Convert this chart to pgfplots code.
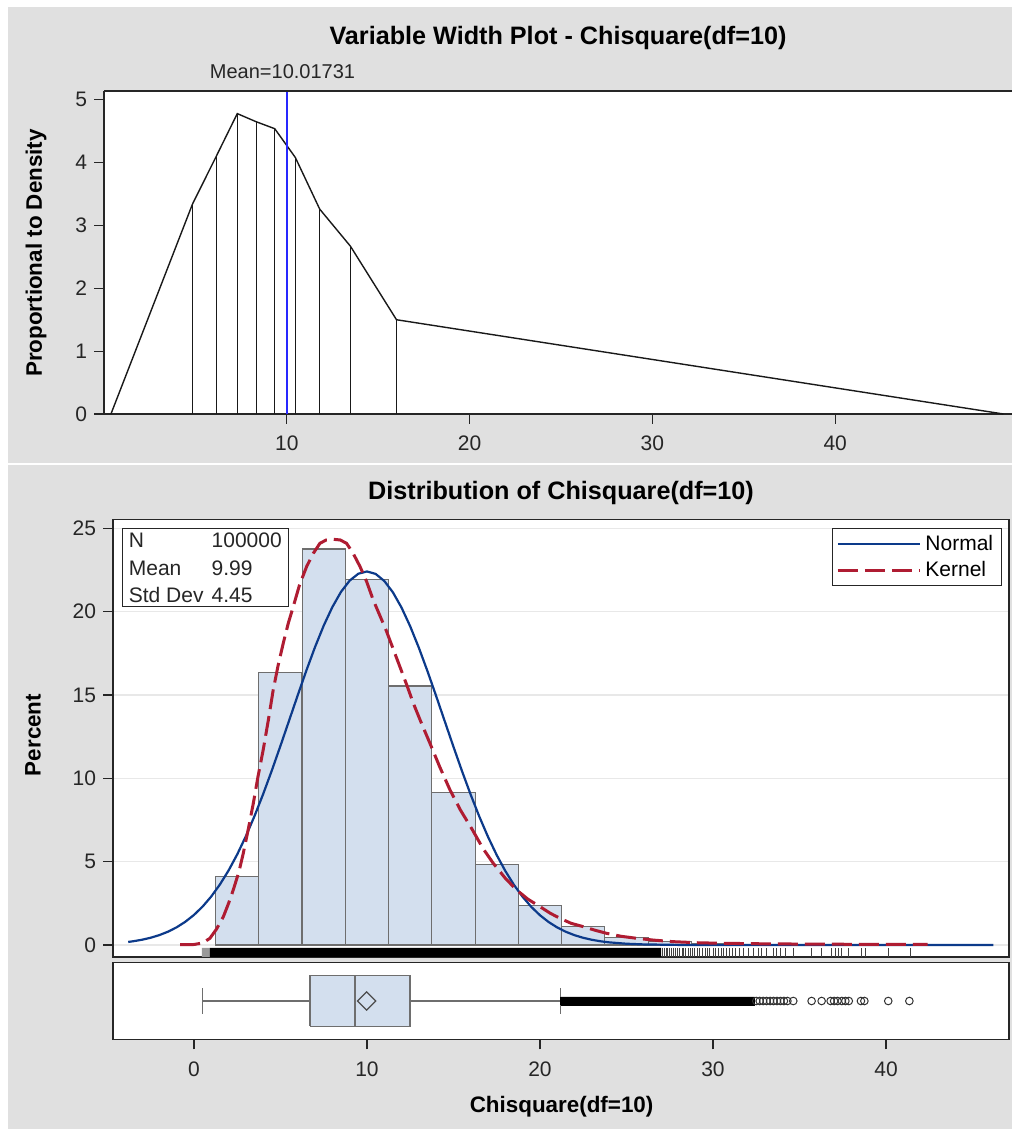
\documentclass[border=0pt]{standalone}
\usepackage{pgfplots}
\pgfplotsset{compat=1.18}
\usepackage{fontspec}
\setmainfont{Liberation Sans}
\definecolor{bggray}{RGB}{224,224,224}
\definecolor{barfill}{RGB}{211,223,238}
\definecolor{baredge}{RGB}{110,110,110}
\definecolor{normblue}{RGB}{12,58,138}
\definecolor{kernred}{RGB}{175,28,50}
\definecolor{meanblue}{RGB}{40,40,255}
\definecolor{gridgray}{RGB}{232,232,232}
\pgfplotsset{
  sasaxis/.style={
    scale only axis,
    anchor=south west,
    axis line style={draw=black!85, line width=0.6pt},
    tick style={draw=black!85, line width=0.6pt},
    tick align=outside,
    major tick length=5pt,
    xtick pos=bottom, ytick pos=left,
    ticklabel style={font=\fontsize{10.5}{12}\selectfont, text=black!85},
    /pgf/number format/assume math mode=true,
    axis background/.style={fill=white},
    clip=false,
  }
}
\begin{document}
\begin{tikzpicture}
\fill[white] (0pt,0pt) rectangle (506pt,564.5pt);
\useasboundingbox (0pt,0pt) rectangle (506pt,564.5pt);
\fill[bggray] (4pt,333pt) rectangle (506pt,561pt);
\fill[bggray] (4pt,0pt) rectangle (506pt,332pt);

% ---------- top: variable width plot ----------
\begin{axis}[sasaxis, at={(52pt,357.5pt)}, width=454pt, height=161.5pt,
  xmin=0, xmax=49.67, ymin=0, ymax=5.14,
  axis x line*=bottom, axis y line*=left,
  xtick={10,20,30,40}, ytick={0,1,2,3,4,5},
  xticklabel style={yshift=-2.5pt}]
\addplot[black!90, line width=0.7pt] coordinates {
(0.38,0)(4.84,3.34)(6.14,4.10)(7.29,4.78)(8.33,4.65)(9.34,4.54)(10.47,4.08)(11.8,3.26)(13.48,2.67)(16.0,1.50)(49.2,0)};
\addplot[ycomb, black!90, line width=0.7pt] coordinates {
(4.84,3.34)(6.14,4.10)(7.29,4.78)(8.33,4.65)(9.34,4.54)(10.47,4.08)(11.8,3.26)(13.48,2.67)(16.0,1.50)};
\addplot[meanblue, line width=0.7pt] coordinates {(10.017,0)(10.017,5.14)};
\draw[black!85, line width=0.6pt] (rel axis cs:0,1) -- (rel axis cs:1,1);
\end{axis}

% ---------- histogram ----------
\begin{axis}[sasaxis, at={(56.5pt,86pt)}, width=448pt, height=218.85pt,
  xmin=-4.68, xmax=47.11, ymin=-0.72, ymax=25.54,
  xtick=\empty, ytick={0,5,10,15,20,25},
  ymajorgrids, grid style={gridgray, line width=0.6pt},
  legend style={at={(1,1)}, anchor=north east, xshift=-3.65pt, yshift=-4.5pt,
    draw=black!85, line width=0.6pt, font=\fontsize{10.5}{12}\selectfont,
    inner xsep=2pt, inner ysep=1pt, row sep=0pt},
  legend cell align=left,
  legend image code/.code={\draw[#1] (0pt,0pt) -- (41pt,0pt);}]
\addplot[ybar interval, fill=barfill, draw=baredge, line width=0.6pt, forget plot] coordinates {
(1.25,4.10)(3.75,16.36)(6.25,23.76)(8.75,21.92)(11.25,15.54)(13.75,9.16)(16.25,4.84)(18.75,2.36)(21.25,1.12)(23.75,0.46)(26.25,0.20)(28.75,0.08)(31.25,0.03)(33.75,0)};
% rug
\addplot[fill=black!40, draw=none, forget plot] coordinates {(0.45,-0.72)(0.92,-0.72)(0.92,-0.18)(0.45,-0.18)(0.45,-0.72)};
\addplot[fill=black, draw=none, forget plot] coordinates {(0.92,-0.72)(27.0,-0.72)(27.0,-0.18)(0.92,-0.18)(0.92,-0.72)};
\addplot[only marks, mark=|, mark size=2.25pt, mark options={black!75, line width=0.35pt}, forget plot] coordinates {
(27.1,-0.45)(27.2,-0.45)(27.3,-0.45)(27.35,-0.45)(27.5,-0.45)(27.6,-0.45)(27.7,-0.45)(27.8,-0.45)(27.95,-0.45)(28.05,-0.45)(28.2,-0.45)(28.3,-0.45)(28.4,-0.45)(28.55,-0.45)(28.7,-0.45)(28.8,-0.45)(28.95,-0.45)(29.1,-0.45)(29.2,-0.45)(29.4,-0.45)(29.55,-0.45)(29.7,-0.45)(29.8,-0.45)(30.0,-0.45)(30.15,-0.45)(30.3,-0.45)(30.5,-0.45)(30.6,-0.45)(30.8,-0.45)(30.95,-0.45)(31.1,-0.45)(31.3,-0.45)(31.5,-0.45)
(31.75,-0.45)(32.04,-0.45)(32.33,-0.45)(32.62,-0.45)(32.81,-0.45)(33.10,-0.45)(33.49,-0.45)(33.68,-0.45)(33.87,-0.45)(34.16,-0.45)(34.64,-0.45)(35.70,-0.45)(36.28,-0.45)(36.86,-0.45)(37.05,-0.45)(37.25,-0.45)(37.44,-0.45)(37.82,-0.45)(38.59,-0.45)(38.79,-0.45)(40.13,-0.45)(41.39,-0.45)};
% normal
\addplot[normblue, line width=1.1pt] coordinates {
(-3.8,0.184)(-3.5,0.226)(-3,0.316)(-2.5,0.436)(-2,0.594)(-1.5,0.799)(-1,1.062)(-0.5,1.393)(0,1.803)(0.5,2.306)(1,2.912)(1.5,3.631)(2,4.470)(2.5,5.435)(3,6.526)(3.5,7.737)(4,9.057)(4.5,10.470)(5,11.952)(5.5,13.470)(6,14.992)(6.5,16.477)(7,17.882)(7.5,19.163)(8,20.277)(8.5,21.188)(9,21.862)(9.5,22.275)(10,22.41)(10.5,22.263)(11,21.840)(11.5,21.156)(12,20.237)(12.5,19.114)(13,17.828)(13.5,16.420)(14,14.932)(14.5,13.409)(15,11.891)(15.5,10.412)(16,9.003)(16.5,7.686)(17,6.480)(17.5,5.394)(18,4.435)(18.5,3.600)(19,2.886)(19.5,2.284)(20,1.785)(20.5,1.378)(21,1.050)(21.5,0.790)(22,0.587)(22.5,0.431)(23,0.312)(23.5,0.223)(24,0.158)(25,0.076)(26,0.035)(28,0.005)(30,0.0005)(35,0)(40,0)(46.2,0)};
\addlegendentry{Normal}
% kernel
\addplot[kernred, line width=1.5pt, dash pattern=on 10pt off 3.5pt] coordinates {
(-0.8,0.02)(0.0,0.03)(0.5,0.12)(0.92,0.4)(1.3,0.95)(1.7,1.7)(2.0,2.5)(2.27,3.3)(2.6,4.4)(2.85,5.5)(3.15,7.0)(3.43,8.5)(3.7,10.1)(4.0,11.7)(4.3,13.5)(4.58,15.3)(4.87,16.8)(5.16,18.1)(5.45,19.3)(5.74,20.3)(6.1,21.6)(6.51,22.7)(6.9,23.5)(7.28,24.1)(7.65,24.3)(8.05,24.34)(8.45,24.3)(8.82,24.1)(9.2,23.5)(9.6,22.7)(9.98,21.8)(10.36,20.7)(10.73,19.8)(11.1,18.9)(11.5,17.8)(11.9,16.7)(12.3,15.6)(12.68,14.5)(13.15,13.3)(13.64,12.1)(14.2,10.7)(14.8,9.3)(15.4,8.1)(16.1,6.9)(16.7,5.8)(17.3,4.9)(18.0,4.0)(18.65,3.3)(19.3,2.75)(20.0,2.3)(20.6,1.9)(21.16,1.6)(21.8,1.3)(22.5,1.1)(23.2,0.88)(23.85,0.7)(24.7,0.52)(25.6,0.4)(26.6,0.29)(27.7,0.2)(29.2,0.13)(30.8,0.1)(33,0.07)(36,0.05)(39,0.04)(42.4,0.03)};
\addlegendentry{Kernel}
\node[draw=black!85, line width=0.6pt, fill=white, anchor=north west, inner xsep=3.3pt, inner ysep=2pt,
  font=\fontsize{10.5}{13.75}\selectfont, align=left, text=black!85] at (axis cs:-4.18,25.0)
  {\makebox[41.4pt][l]{N}100000\\ \makebox[41.4pt][l]{Mean}9.99\\ \makebox[41.4pt][l]{Std Dev}4.45};
\end{axis}

% ---------- box plot ----------
\begin{axis}[sasaxis, at={(56.5pt,44.85pt)}, width=448pt, height=38.3pt,
  xmin=-4.68, xmax=47.11, ymin=-1, ymax=1,
  ytick=\empty, xtick={0,10,20,30,40},
  xticklabel style={yshift=-2.5pt}]
\addplot[baredge, line width=0.6pt] coordinates {(0.48,0)(6.71,0)};
\addplot[baredge, line width=0.6pt] coordinates {(12.49,0)(21.2,0)};
\addplot[baredge, line width=0.6pt] coordinates {(0.48,-0.33)(0.48,0.33)};
\addplot[baredge, line width=0.6pt] coordinates {(21.2,-0.33)(21.2,0.33)};
\addplot[fill=barfill, draw=baredge, line width=0.6pt] coordinates {(6.71,-0.66)(12.49,-0.66)(12.49,0.66)(6.71,0.66)(6.71,-0.66)};
\addplot[baredge, line width=0.6pt] coordinates {(9.31,-0.66)(9.31,0.66)};
\addplot[only marks, mark=square, mark size=3.2pt, mark options={rotate=45, draw=black!70, line width=0.6pt, fill=none}] coordinates {(9.98,0)};
\addplot[fill=black, draw=black, line width=0.4pt] coordinates {(21.2,-0.105)(32.4,-0.105)(32.4,0.105)(21.2,0.105)(21.2,-0.105)};
\addplot[only marks, mark=o, mark size=1.9pt, mark options={draw=black!80, line width=0.5pt}] coordinates {
(32.5,0)(32.7,0)(32.9,0)(33.1,0)(33.3,0)(33.5,0)(33.7,0)(33.9,0)(34.1,0)(34.3,0)(34.64,0)(35.70,0)(36.28,0)(36.8,0)(37.0,0)(37.2,0)(37.45,0)(37.65,0)(37.85,0)(38.55,0)(38.75,0)(40.13,0)(41.35,0)};
\end{axis}

% ---------- titles and labels ----------
\node[font=\bfseries\fontsize{12.6}{14}\selectfont] at (279pt,545.5pt) {Variable Width Plot - Chisquare(df=10)};
\node[font=\fontsize{10}{12}\selectfont, text=black!85] at (141.25pt,528.5pt) {Mean=10.01731};
\node[rotate=90, font=\bfseries\fontsize{11.2}{13}\selectfont] at (18pt,438pt) {Proportional to Density};
\node[font=\bfseries\fontsize{12.6}{14}\selectfont] at (280.5pt,318pt) {Distribution of Chisquare(df=10)};
\node[rotate=90, font=\bfseries\fontsize{11.2}{13}\selectfont] at (16.5pt,197pt) {Percent};
\node[font=\bfseries\fontsize{11.2}{13}\selectfont] at (280.8pt,11pt) {Chisquare(df=10)};
\end{tikzpicture}
\end{document}
